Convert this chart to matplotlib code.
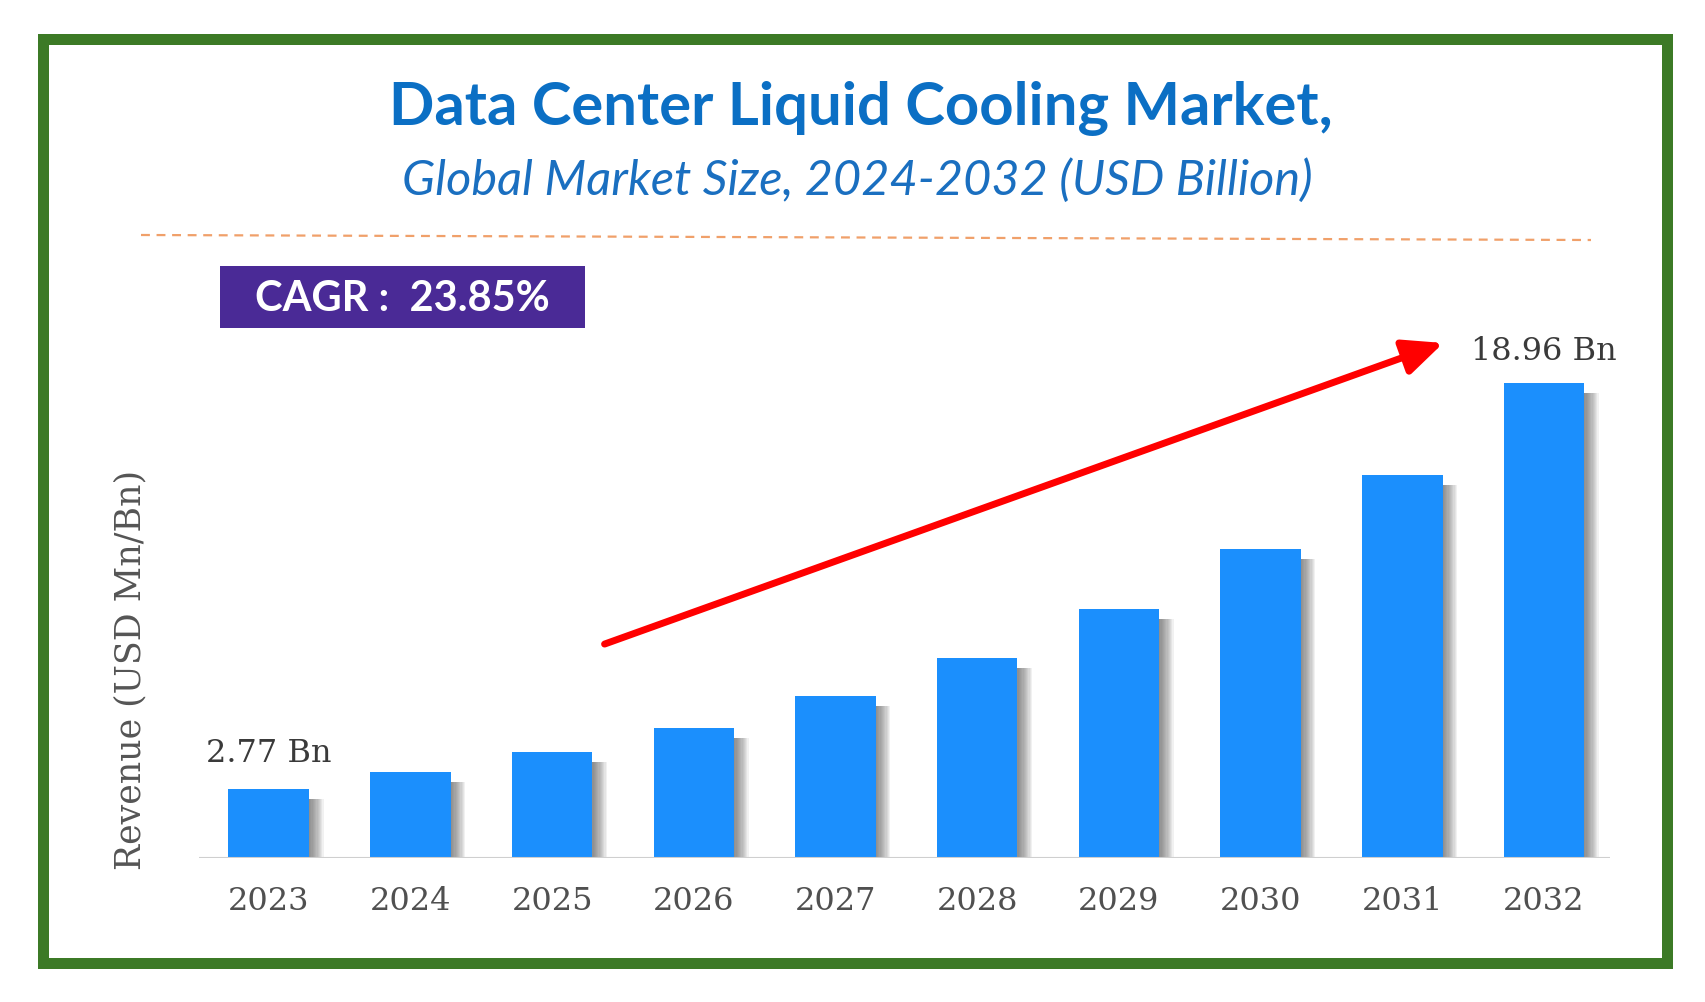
import matplotlib
matplotlib.use("Agg")
import matplotlib.pyplot as plt
from matplotlib.patches import Rectangle, FancyArrowPatch
from matplotlib.lines import Line2D

# data
years = ["2023", "2024", "2025", "2026", "2027", "2028", "2029", "2030", "2031", "2032"]
revenue = [2.77, 3.43, 4.23, 5.18, 6.48, 8.00, 9.95, 12.33, 15.30, 18.96]
first_label = "2.77 Bn"
last_label = "18.96 Bn"
title = "Data Center Liquid Cooling Market,"
subtitle = "Global Market Size, 2024-2032 (USD Billion)"
cagr_text = "CAGR :  23.85%"
ylabel = "Revenue (USD Mn/Bn)"

W, H = 1706, 1002
fig = plt.figure(figsize=(W / 100, H / 100), dpi=100)
fig.patch.set_facecolor("white")


def fx(x):
    return x / W


def fy(y):
    return 1 - y / H


# green frame
fig.patches.append(Rectangle((fx(43.5), fy(962.5)), fx(1667.5) - fx(43.5), fy(38.5) - fy(962.5),
                             transform=fig.transFigure, fill=False, edgecolor="#3c7a26",
                             linewidth=11 * 0.72, zorder=10))

# titles
fig.text(fx(861), fy(109), title, ha="center", va="center", fontsize=43,
         family="Lato", weight="bold", color="#0b6fc4")
fig.text(fx(857), fy(181), subtitle, ha="center", va="center", fontsize=35,
         family="Lato", style="italic", color="#1a6fc0")

# dashed separator
fig.lines.append(Line2D([fx(141), fx(1591)], [fy(235), fy(240)], transform=fig.transFigure,
                        color="#f0a06a", linewidth=1.6, dashes=(4, 3)))

# CAGR box
fig.patches.append(Rectangle((fx(220), fy(328)), fx(585) - fx(220), fy(266) - fy(328),
                             transform=fig.transFigure, facecolor="#4a2a96", edgecolor="none"))
fig.text(fx(402), fy(299), cagr_text, ha="center", va="center", fontsize=30,
         family="Lato", weight="bold", color="white")

# bar axes
px_x = 141.5
px_y = 25.05
ax_left, ax_right, ax_bottom = 199, 1610, 858
ymax = 22
ax = fig.add_axes([fx(ax_left), fy(ax_bottom), fx(ax_right) - fx(ax_left), ymax * px_y / H])
x = list(range(len(years)))
ax.set_xlim(-(268.7 - ax_left) / px_x, len(years) - 1 + (ax_right - 1544) / px_x)
ax.set_ylim(0, ymax)
ax.axis("off")

width = 80.5 / px_x
# soft shadow on the right of each bar
for k in range(1, 13):
    off = k * 1.2 / px_x
    ax.bar([i + off for i in x], [v - 10 / px_y for v in revenue], width=width,
           color="#555555", alpha=0.08, linewidth=0, zorder=1)
ax.bar(x, revenue, width=width, color="#1b8ffd", linewidth=0, zorder=3)

ax.axhline(0, xmin=0, xmax=1, color="#cfcfcf", linewidth=1.5, zorder=4)

for i, yr in enumerate(years):
    ax.text(i, -43 / px_y, yr, ha="center", va="center", fontsize=23,
            family="DejaVu Serif", color="#505050")

ax.text(x[0], revenue[0] + 35 / px_y, first_label, ha="center", va="center", fontsize=23,
        family="DejaVu Serif", color="#3a3a3a")
ax.text(x[-1], revenue[-1] + 32 / px_y, last_label, ha="center", va="center",
        fontsize=23, family="DejaVu Serif", color="#3a3a3a")

fig.text(fx(130), fy(670), ylabel, ha="center", va="center", rotation=90, fontsize=25,
         family="DejaVu Serif", color="#555555")

# trend arrow
arrow = FancyArrowPatch((2.37, 8.54), (8.29, 20.56), arrowstyle="-|>,head_length=0.6,head_width=0.27",
                        mutation_scale=40, color="#ff0000", linewidth=5, zorder=6, clip_on=False,
                        shrinkA=0, shrinkB=0)
ax.add_patch(arrow)

fig.savefig("out.png", dpi=100)
